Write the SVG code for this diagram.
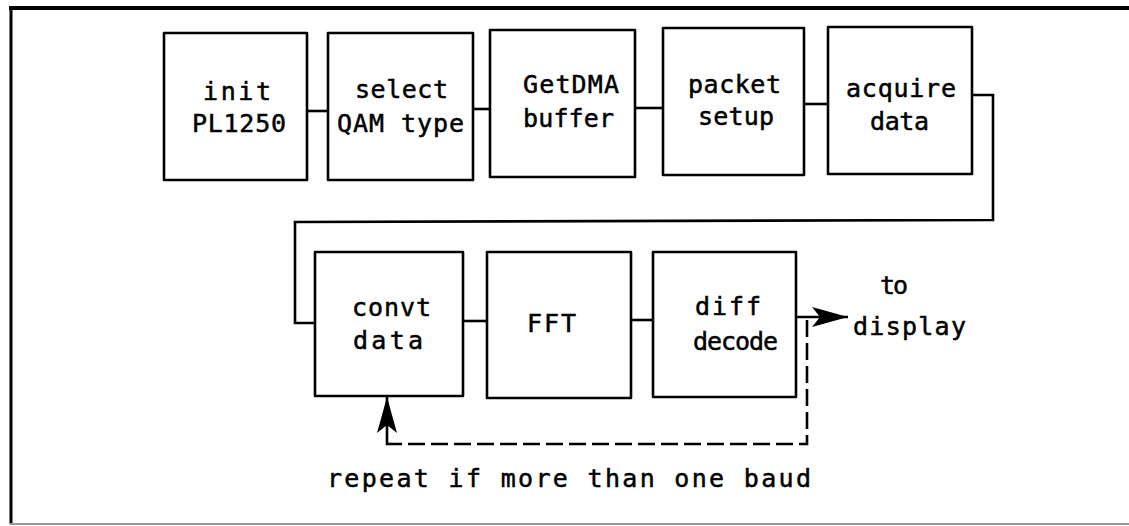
<svg xmlns="http://www.w3.org/2000/svg" width="1129" height="526" viewBox="0 0 1129 526">
<style>
.box{fill:none;stroke:#000;stroke-width:2.6;stroke-linejoin:round}
.ln{fill:none;stroke:#000;stroke-width:2.6}
.dash{fill:none;stroke:#000;stroke-width:2.6;stroke-dasharray:17 6}
text{font-family:"DejaVu Sans Mono","Liberation Mono",monospace;font-size:25px;fill:#000;stroke:#000;stroke-width:0.5}
</style>
<defs>
<marker id="ah" viewBox="0 0 36 20" refX="36" refY="10" markerWidth="36" markerHeight="20" markerUnits="userSpaceOnUse" orient="auto">
<path d="M0,0 L36,10 L0,20 L8,10 z" fill="#000"/>
</marker>
</defs>
<g id="frame">
<line x1="9" y1="8" x2="1129" y2="8" stroke="#000" stroke-width="4"/>
<line x1="11" y1="7" x2="11" y2="524" stroke="#000" stroke-width="3"/>
<line x1="10" y1="524" x2="1129" y2="524" stroke="#999" stroke-width="2"/>
</g>
<g id="connectors">
<line class="ln" x1="307" y1="111" x2="328" y2="111"/>
<line class="ln" x1="473" y1="109" x2="490" y2="109"/>
<line class="ln" x1="635" y1="108" x2="663" y2="108"/>
<line class="ln" x1="804" y1="104" x2="828" y2="104"/>
<polyline class="ln" points="972,95 993,95 993,220 295,222 295,323 315,323"/>
<line class="ln" x1="463" y1="321" x2="487" y2="321"/>
<line class="ln" x1="631" y1="320" x2="653" y2="320"/>
<line class="ln" x1="796" y1="317" x2="848" y2="317" marker-end="url(#ah)"/>
<polyline class="dash" points="807,320 807,444 390,444"/>
<polyline class="ln" points="391,444 387,444 387,397" marker-end="url(#ah)"/>
</g>
<g id="n-init">
<rect class="box" x="164" y="33" width="143" height="147"/>
<text x="203" y="100" textLength="68" lengthAdjust="spacing">init</text>
<text x="192" y="132" textLength="94" lengthAdjust="spacing">PL1250</text>
</g>
<g id="n-select">
<rect class="box" x="328" y="33" width="145" height="147"/>
<text x="355" y="98" textLength="93" lengthAdjust="spacing">select</text>
<text x="337" y="132" textLength="127" lengthAdjust="spacing">QAM type</text>
</g>
<g id="n-getdma">
<rect class="box" x="490" y="30" width="145" height="147"/>
<text x="523" y="93" textLength="96" lengthAdjust="spacing">GetDMA</text>
<text x="523" y="127" textLength="91" lengthAdjust="spacing">buffer</text>
</g>
<g id="n-packet">
<rect class="box" x="663" y="28" width="141" height="147"/>
<text x="688" y="93" textLength="93" lengthAdjust="spacing">packet</text>
<text x="698" y="125" textLength="76" lengthAdjust="spacing">setup</text>
</g>
<g id="n-acquire">
<rect class="box" x="828" y="27" width="144" height="147"/>
<text x="846" y="97" textLength="110" lengthAdjust="spacing">acquire</text>
<text x="870" y="130" textLength="59" lengthAdjust="spacing">data</text>
</g>
<g id="n-convt">
<rect class="box" x="315" y="252" width="148" height="144"/>
<text x="352" y="316" textLength="79" lengthAdjust="spacing">convt</text>
<text x="353" y="349" textLength="70" lengthAdjust="spacing">data</text>
</g>
<g id="n-fft">
<rect class="box" x="487" y="252" width="144" height="146"/>
<text x="527" y="332" textLength="49" lengthAdjust="spacing">FFT</text>
</g>
<g id="n-diff">
<rect class="box" x="653" y="252" width="143" height="145"/>
<text x="695" y="315" textLength="66" lengthAdjust="spacing">diff</text>
<text x="693" y="350" textLength="85" lengthAdjust="spacing">decode</text>
</g>
<g id="labels">
<text x="880" y="294" textLength="28" lengthAdjust="spacing">to</text>
<text x="853" y="335" textLength="113" lengthAdjust="spacing">display</text>
<text x="327" y="487" textLength="484" lengthAdjust="spacing">repeat if more than one baud</text>
</g>
</svg>
